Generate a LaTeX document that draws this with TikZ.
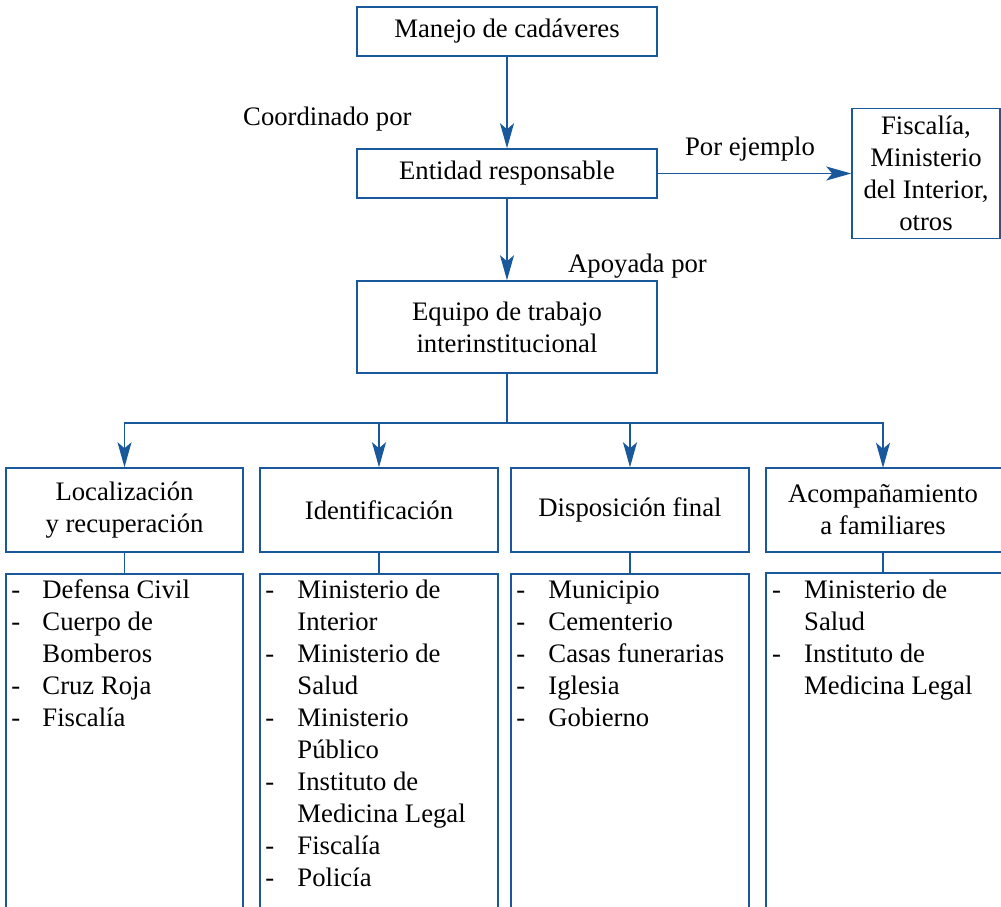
\documentclass[tikz,border=0pt]{standalone}
\usepackage{fontspec}
\setmainfont{Liberation Serif}
\usetikzlibrary{arrows.meta}
\definecolor{lineblue}{RGB}{25,88,155}
\begin{document}
\begin{tikzpicture}[x=1pt,y=-1pt,
  every node/.style={font=\fontsize{26.7}{32}\selectfont, text=black},
  box/.style={draw=lineblue, line width=1.5pt, rectangle, align=center, inner sep=0pt},
  conn/.style={draw=lineblue, line width=1.5pt},
  arr/.style={conn, -{Stealth[length=25pt,width=14pt,inset=6pt]}},
  lbl/.style={inner sep=0pt},
  listtext/.style={anchor=north west, inner sep=0pt, xshift=6pt, yshift=-3pt}]
\clip (0,0) rectangle (1001,906);
\fill[white] (0,0) rectangle (1001,906);

% main chain
\node[box, minimum width=300pt, minimum height=49pt] (top) at (507,31.5) {Manejo de cadáveres};
\node[box, minimum width=300pt, minimum height=49pt] (ent) at (507,173.5) {Entidad responsable};
\node[box, minimum width=148pt, minimum height=130pt] (fis) at (926,173.5) {Fiscalía,\\Ministerio\\del Interior,\\otros};
\node[box, minimum width=300pt, minimum height=92pt] (eq) at (507,327) {Equipo de trabajo\\interinstitucional};

% labels
\node[lbl, anchor=west] (lcoord) at (243,119) {Coordinado por};
\node[lbl] (lej) at (750,149) {Por ejemplo};
\node[lbl, anchor=west] (lapo) at (568,266) {Apoyada por};

% categories
\node[box, minimum width=237pt, minimum height=84pt] (cat1) at (124.5,510) {Localización\\y recuperación};
\node[box, minimum width=238pt, minimum height=84pt] (cat2) at (379,510) {Identificación};
\node[box, minimum width=238pt, minimum height=84pt] (cat3) at (630,510) {Disposición final};
\node[inner sep=0pt, align=center, minimum width=236pt, minimum height=84pt] (cat4) at (883,510) {Acompañamiento\\a familiares};
\draw[conn] (766,468) rectangle (1010,552);

% list boxes
\node[box, minimum width=237pt, minimum height=350pt, anchor=north] (l1) at (124.5,573) {};
\node[box, minimum width=238pt, minimum height=350pt, anchor=north] (l2) at (379,573) {};
\node[box, minimum width=238pt, minimum height=350pt, anchor=north] (l3) at (630,573) {};
\coordinate (l4) at (883,573);
\coordinate (l4w) at (766,573);
\draw[conn] (766,573) rectangle (1010,925);

\node[listtext] (t1) at (l1.north west) {\begin{tabular}{@{}p{31pt}@{}l@{}}
- & Defensa Civil\\
- & Cuerpo de\\
  & Bomberos\\
- & Cruz Roja\\
- & Fiscalía
\end{tabular}};
\node[listtext] (t2) at (l2.north west) {\begin{tabular}{@{}p{32pt}@{}l@{}}
- & Ministerio de\\
  & Interior\\
- & Ministerio de\\
  & Salud\\
- & Ministerio\\
  & Público\\
- & Instituto de\\
  & Medicina Legal\\
- & Fiscalía\\
- & Policía
\end{tabular}};
\node[listtext] (t3) at (l3.north west) {\begin{tabular}{@{}p{32pt}@{}l@{}}
- & Municipio\\
- & Cementerio\\
- & Casas funerarias\\
- & Iglesia\\
- & Gobierno
\end{tabular}};
\node[listtext] (t4) at (l4w) {\begin{tabular}{@{}p{32pt}@{}l@{}}
- & Ministerio de\\
  & Salud\\
- & Instituto de\\
  & Medicina Legal
\end{tabular}};

% connectors
\draw[arr] (top) -- (ent);
\draw[arr] (ent) -- (fis);
\draw[arr] (ent) -- (eq);
\coordinate (bus) at (507,423);
\draw[conn] (eq.south) -- (bus);
\draw[arr] (bus) -| (cat1.north);
\draw[arr] (bus) -| (cat2.north);
\draw[arr] (bus) -| (cat3.north);
\draw[arr] (bus) -| (cat4.north);
\draw[conn] (cat1.south) -- (l1.north);
\draw[conn] (cat2.south) -- (l2.north);
\draw[conn] (cat3.south) -- (l3.north);
\draw[conn] (cat4.south) -- (l4);
\end{tikzpicture}
\end{document}
